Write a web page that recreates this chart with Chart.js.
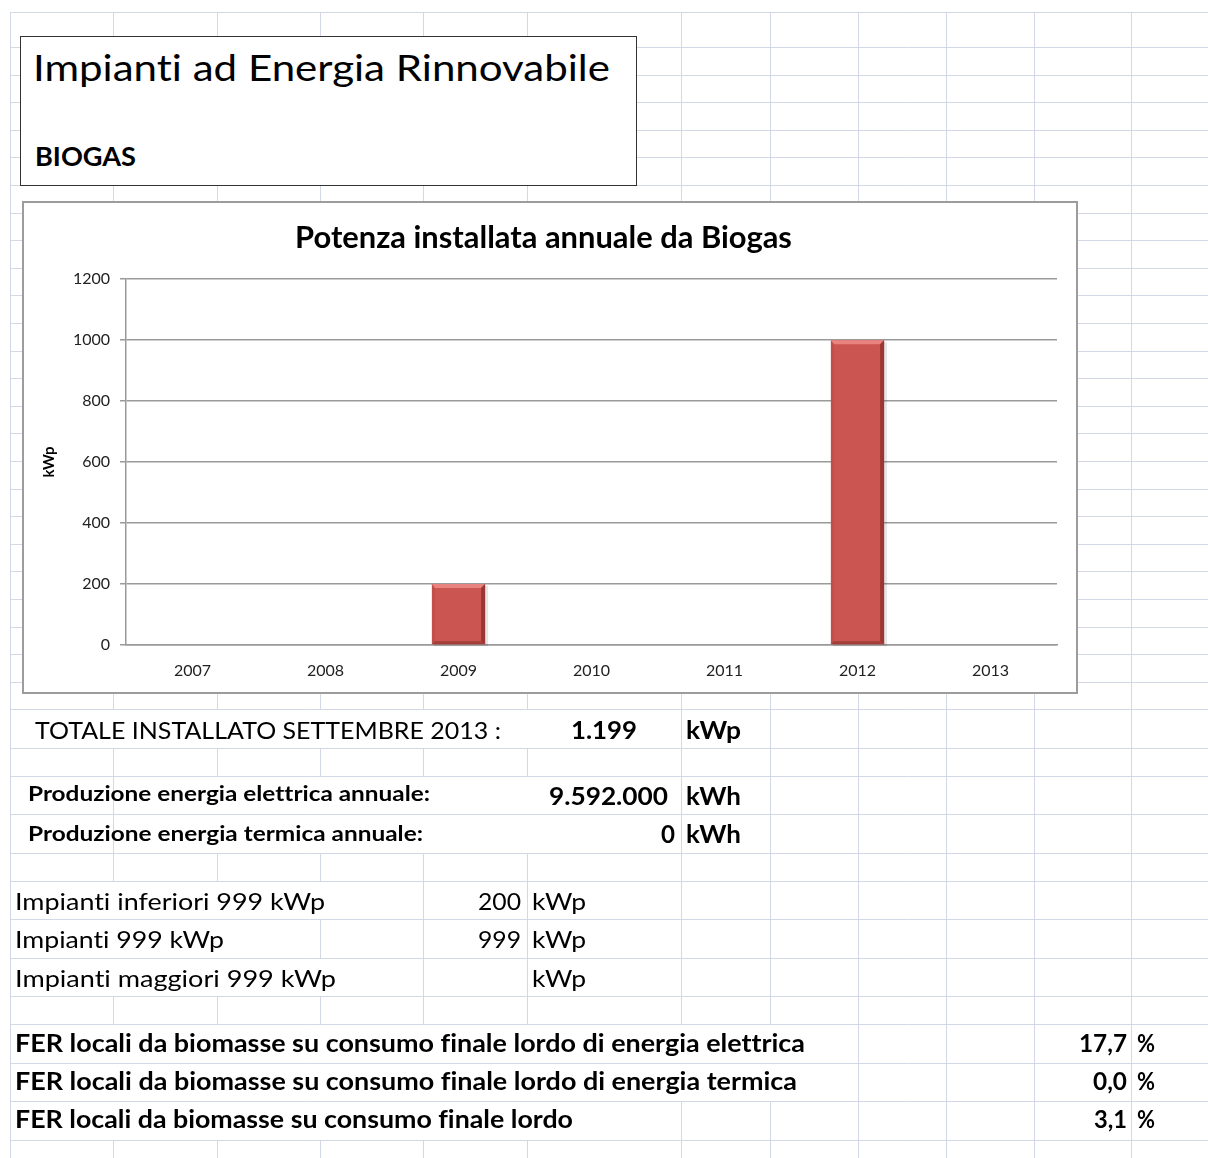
<!DOCTYPE html>
<html lang="it">
<head>
<meta charset="utf-8">
<title>Impianti ad Energia Rinnovabile - Biogas</title>
<script src="https://cdn.jsdelivr.net/npm/chart.js@4.4.0/dist/chart.umd.min.js"></script>
<style>
	body { margin: 0; background: #fff; }
	#sheet { position: relative; width: 1208px; height: 1158px; overflow: hidden; font-family: Lato, "Open Sans", sans-serif; font-variant-ligatures: none; }
	#grid { position: absolute; left: 0; top: 0; }
	#titolo { position: absolute; left: 20px; top: 36px; width: 617px; height: 150px; box-sizing: border-box; border: 1px solid #333; background: #fff; }
	#box-grafico { position: absolute; left: 22px; top: 201px; width: 1052px; height: 489px; border: 2px solid #9c9c9c; background: #fff; }
	.cell { position: absolute; white-space: nowrap; transform-origin: 0 0; line-height: 1.2; color: #000; }
	.probe { display: inline-block; width: 0; height: 0; vertical-align: baseline; }
</style>
</head>
<body>
<div id="sheet">
	<canvas id="grid" width="1208" height="1158"></canvas>
	<div id="titolo"></div>
	<div id="box-grafico"><canvas id="biogas"></canvas></div>
</div>
<script>
// dati del grafico
const anni = ["2007", "2008", "2009", "2010", "2011", "2012", "2013"];
const potenzaKwp = [0, 0, 200, 0, 0, 999, 0];
const yMax = 1200;
const yStep = 200;

// testi del foglio: testo, x, baseline, larghezza, px, peso
const testi = [
	["Impianti ad Energia Rinnovabile", 33, 81, 577, 36, 400],
	["BIOGAS", 35, 166, 101, 27, 700],
	["TOTALE INSTALLATO SETTEMBRE 2013 :", 35, 739, 466, 24, 400],
	["1.199", 571, 739, 66, 24, 700],
	["kWp", 686, 739, 55, 24, 700],
	["Produzione energia elettrica annuale:", 28, 801, 402, 20, 700],
	["9.592.000", 549, 805, 119, 24, 700],
	["kWh", 686, 805, 55, 24, 700],
	["Produzione energia termica annuale:", 28, 841, 395, 20, 700],
	["0", 661, 843, 14, 24, 700],
	["kWh", 686, 843, 55, 24, 700],
	["Impianti inferiori 999 kWp", 15, 910, 310, 24, 400],
	["200", 478, 910, 43, 24, 400],
	["kWp", 532, 910, 54, 24, 400],
	["Impianti 999 kWp", 15, 948, 209, 24, 400],
	["999", 478, 948, 43, 24, 400],
	["kWp", 532, 948, 54, 24, 400],
	["Impianti maggiori 999 kWp", 15, 987, 321, 24, 400],
	["kWp", 532, 987, 54, 24, 400],
	["FER locali da biomasse su consumo finale lordo di energia elettrica", 15, 1052, 790, 24, 700],
	["17,7", 1079, 1052, 48, 24, 700],
	["%", 1137, 1052, 18, 24, 700],
	["FER locali da biomasse su consumo finale lordo di energia termica", 15, 1090, 782, 24, 700],
	["0,0", 1093, 1090, 34, 24, 700],
	["%", 1137, 1090, 18, 24, 700],
	["FER locali da biomasse su consumo finale lordo", 15, 1128, 558, 24, 700],
	["3,1", 1094, 1128, 33, 24, 700],
	["%", 1137, 1128, 18, 24, 700],
];

//griglia del foglio
let colonne = [10, 113, 217, 320, 423, 527, 681, 770, 858, 946, 1034, 1131];
let righe = [12];
for (let k = 0; k <= 24; k++) righe.push(Math.round(47 + 27.6 * k));
righe = righe.concat([748, 776, 814, 853, 881, 919, 958, 996, 1024, 1063, 1101, 1140, 1158]);

// celle con testo che copre le linee verticali
let nascoste = {
	709: [113, 217, 320, 423, 527],
	776: [217, 320, 423, 527],
	814: [217, 320, 423, 527],
	881: [113, 217, 320],
	919: [113, 217],
	958: [113, 217, 320],
	1024: [113, 217, 320, 423, 527, 681, 770],
	1063: [113, 217, 320, 423, 527, 681, 770],
	1101: [113, 217, 320, 423, 527],
};

let g = document.getElementById("grid").getContext("2d");
g.strokeStyle = "#d2d8e6";
g.lineWidth = 1;
g.beginPath();
righe.forEach(function (y) {
	if (y >= 1158) return;
	g.moveTo(10, y + 0.5);
	g.lineTo(1208, y + 0.5);
});
colonne.forEach(function (x) {
	for (let i = 0; i < righe.length - 1; i++) {
		let h = nascoste[righe[i]];
		if (h && h.indexOf(x) >= 0) continue;
		g.moveTo(x + 0.5, righe[i]);
		g.lineTo(x + 0.5, righe[i + 1]);
	}
});
g.stroke();

// testi posizionati sulla baseline e adattati in larghezza
let sheet = document.getElementById("sheet");
testi.forEach(function (t) {
	let el = document.createElement("div");
	el.className = "cell";
	el.textContent = t[0];
	el.style.fontSize = t[4] + "px";
	el.style.fontWeight = t[5];
	let probe = document.createElement("span");
	probe.className = "probe";
	el.appendChild(probe);
	sheet.appendChild(el);
	let w = el.getBoundingClientRect().width;
	el.style.left = t[1] + "px";
	el.style.top = t[2] - probe.offsetTop + "px";
	el.style.transform = "scaleX(" + t[3] / w + ")";
});

// dimensione del titolo per la larghezza voluta
function fitFont(text, weight, width) {
	let c = document.createElement("canvas").getContext("2d");
	c.font = weight + " 100px Lato";
	return (100 * width) / c.measureText(text).width;
}

let titoloGrafico = "Potenza installata annuale da Biogas";
let titoloPx = fitFont(titoloGrafico, "bold", 497);
let titoloLh = titoloPx * 1.2;
let titoloTop = 35 - titoloLh / 2;

// effetto rilievo delle barre
const rilievo = {
	id: "rilievo",
	beforeDatasetsDraw(chart) {
		let ctx = chart.ctx;
		chart.getDatasetMeta(0).data.forEach(function (bar) {
			let p = bar.getProps(["x", "y", "base", "width"], true);
			if (p.base - p.y < 1) return;
			ctx.save();
			ctx.fillStyle = "rgba(0,0,0,0.10)";
			ctx.fillRect(p.x - p.width / 2 + 2, p.y + 2, p.width + 1, p.base - p.y);
			ctx.restore();
		});
	},
	afterDatasetsDraw(chart) {
		let ctx = chart.ctx;
		chart.getDatasetMeta(0).data.forEach(function (bar) {
			let p = bar.getProps(["x", "y", "base", "width"], true);
			if (p.base - p.y < 1) return;
			let l = p.x - p.width / 2, r = p.x + p.width / 2, t = p.y, b = p.base;
			let quad = function (pts, col) {
				ctx.beginPath();
				ctx.moveTo(pts[0], pts[1]);
				for (let i = 2; i < pts.length; i += 2) ctx.lineTo(pts[i], pts[i + 1]);
				ctx.closePath();
				ctx.fillStyle = col;
				ctx.fill();
			};
			ctx.save();
			quad([l, t, r, t, r - 4, t + 4, l + 3, t + 4], "#e8837f");
			quad([r, t, r, b, r - 4, b - 3, r - 4, t + 4], "#9b3633");
			quad([l, t, l + 3, t + 4, l + 3, b - 3, l, b], "rgba(185,71,67,0.46)");
			quad([l, b, l + 3, b - 3, r - 4, b - 3, r, b], "#a53d3a");
			ctx.restore();
		});
	},
};

//grafico potenza installata
Chart.defaults.font.family = "Lato, 'Open Sans', sans-serif";
Chart.defaults.color = "#222";

let biogas = document.getElementById("biogas").getContext("2d");
let biogasChart = new Chart(biogas, {
	type: "bar",
	data: {
		labels: anni,
		datasets: [
			{
				label: "kWp",
				data: potenzaKwp,
				backgroundColor: "#cb5551",
				borderWidth: 0,
				barPercentage: 0.4,
				categoryPercentage: 1,
			},
		],
	},
	plugins: [rilievo],
	options: {
		responsive: true,
		maintainAspectRatio: false,
		animation: false,
		layout: {
			padding: { left: 6, right: 19, top: 0, bottom: 0 },
		},
		scales: {
			x: {
				grid: { display: false, drawTicks: false },
				border: { display: true, color: "#9a9a9a", width: 1.5 },
				ticks: { padding: 16, font: { size: 16 }, color: "#222" },
				afterFit: function (scale) {
					scale.height = 47;
				},
			},
			y: {
				min: 0,
				max: yMax,
				ticks: {
					stepSize: yStep,
					padding: 10,
					font: { size: 16 },
					color: "#222",
					callback: function (value) {
						return String(value);
					},
				},
				grid: { color: "#9a9a9a", lineWidth: 1.5, tickLength: 6 },
				border: { display: true, color: "#9a9a9a", width: 1.5 },
				title: {
					display: true,
					text: "kWp",
					font: { size: 15, weight: "bold" },
					color: "#000",
					padding: { top: 10, bottom: 0 },
				},
				afterFit: function (scale) {
					scale.width = 96;
				},
			},
		},
		plugins: {
			legend: { display: false },
			tooltip: { enabled: false },
			title: {
				display: true,
				text: titoloGrafico,
				color: "#000",
				font: { size: titoloPx, weight: "bold" },
				padding: { top: titoloTop, bottom: 76 - titoloTop - titoloLh },
			},
		},
	},
});
</script>
</body>
</html>
